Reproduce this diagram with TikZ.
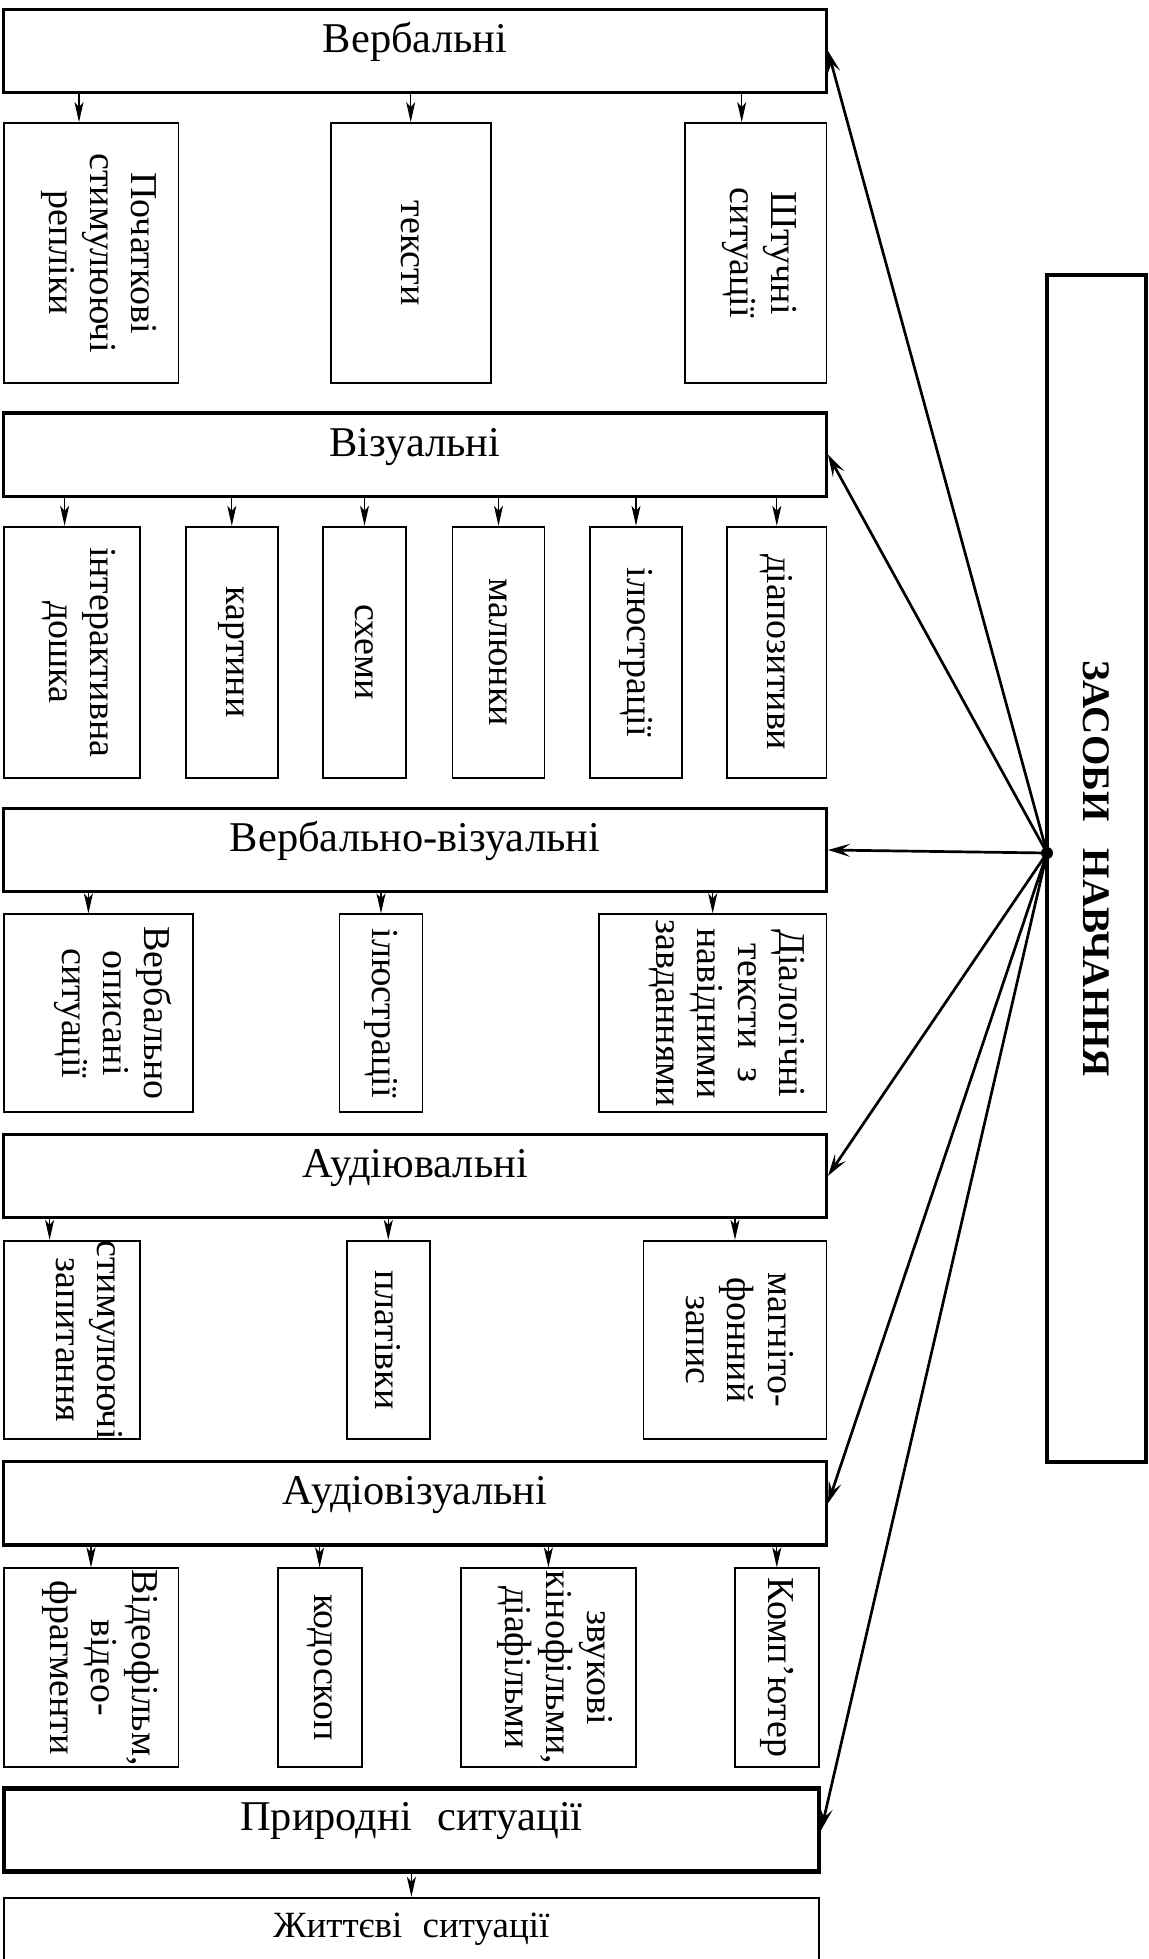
\documentclass[tikz,border=0pt]{standalone}
\usepackage{fontspec}
\setmainfont{Liberation Serif}
\usetikzlibrary{arrows.meta}

\begin{document}
\begin{tikzpicture}[x=0.5pt, y=-0.5pt,
  group node/.style={draw, line width=1.6pt, minimum width=411.4pt, inner xsep=0pt, inner ysep=0pt, text height=21.5pt, text depth=20.2pt, font=\fontsize{21.2}{24}\selectfont},
  item node/.style={draw, line width=0.9pt, inner sep=0pt},
  verbal item/.style={item node, minimum height=130pt},
  visual item/.style={item node, minimum height=125.5pt},
  low item/.style={item node, minimum height=99.2pt},
  item text/.style={rotate=-90, align=center, inner sep=0pt, font=\fontsize{19}{20.5}\selectfont},
  means node/.style={draw, line width=1.8pt, rotate=-90, minimum width=593.5pt, minimum height=49.5pt, font=\bfseries\fontsize{19.5}{22}\selectfont},
  hub node/.style={circle, fill, inner sep=0pt, minimum size=6pt},
  main arrow/.style={line width=1.35pt, -{Stealth[length=11pt, width=6.5pt, inset=4.5pt]}},
  item arrow/.style={line width=0.65pt, -{Stealth[length=10pt, width=4.5pt, inset=2.5pt]}}]

  \useasboundingbox (0,0) rectangle (1149,1959);
  \clip (0,0) rectangle (1149,1959);

  % groups
  \node[group node] (verb) at (415,51) {Вербальні};
  \node[group node] (vis) at (415,454.7) {Візуальні};
  \node[group node] (verbvis) at (415,850) {Вербально-візуальні};
  \node[group node] (audio) at (415,1175.8) {Аудіювальні};
  \node[group node] (audvis) at (415,1503.3) {Аудіовізуальні};
  \node[group node, line width=2.2pt, minimum width=407.6pt, text height=20.9pt, text depth=20.7pt] (nat) at (411.4,1830) {Природні\hspace{0.6em}ситуації};
  \node[group node, line width=1.2pt, minimum width=407.6pt, text height=19.5pt, text depth=40pt, font=\fontsize{18.5}{21}\selectfont] (life) at (411.4,1957.5) {Життєві\hspace{0.55em}ситуації};

  \node[means node] (means) at (1096.5,868.5) {ЗАСОБИ\hspace{0.7em}НАВЧАННЯ};
  \node[hub node] (hub) at (1047,853) {};

  % verbal
  \node[verbal item, minimum width=87.4pt] (v1) at (91,253) {};
  \node[verbal item, minimum width=80pt] (v2) at (410.7,253) {};
  \node[verbal item, minimum width=70.7pt] (v3) at (755.7,253) {};
  \node[item text] (v1txt) at ([xshift=4pt]v1.center) {Початкові\\стимулюючі\\репліки};
  \node[item text] (v2txt) at (v2) {тексти};
  \node[item text] (v3txt) at ([xshift=2pt]v3.center) {Штучні\\ситуації};

  % visual
  \node[visual item, minimum width=68pt] (s1) at (71.6,652.2) {};
  \node[visual item, minimum width=45.8pt] (s2) at (231.8,652.2) {};
  \node[visual item, minimum width=41.5pt] (s3) at (364.5,652.2) {};
  \node[visual item, minimum width=46pt] (s4) at (498.5,652.2) {};
  \node[visual item, minimum width=46pt] (s5) at (636,652.2) {};
  \node[visual item, minimum width=49.7pt] (s6) at (776.8,652.2) {};
  \node[item text] (s1txt) at ([xshift=3.5pt]s1.center) {інтерактивна\\дошка};
  \node[item text] (s2txt) at (s2) {картини};
  \node[item text] (s3txt) at (s3) {схеми};
  \node[item text] (s4txt) at (s4) {малюнки};
  \node[item text] (s5txt) at (s5) {ілюстрації};
  \node[item text] (s6txt) at (s6) {діапозитиви};

  % verbal-visual
  \node[low item, minimum height=99pt, minimum width=94.6pt] (w1) at (98.4,1013.3) {};
  \node[low item, minimum height=99pt, minimum width=41.5pt] (w2) at (381,1013.3) {};
  \node[low item, minimum height=99pt, minimum width=113.8pt] (w3) at (712.7,1013.3) {};
  \node[item text] (w1txt) at ([xshift=7.5pt]w1.center) {Вербально\\описані\\ситуації};
  \node[item text] (w2txt) at (w2) {ілюстрації};
  \node[item text] (w3txt) at ([xshift=7pt]w3.center) {Діалогічні\\тексти\ \ з\\навідними\\завданнями};

  % audio
  \node[low item, minimum width=68pt] (a1) at (71.6,1340) {};
  \node[low item, minimum width=41.5pt] (a2) at (388.3,1340) {};
  \node[low item, minimum width=91.5pt] (a3) at (735,1340) {};
  \node[item text] (a1txt) at ([xshift=9pt]a1.center) {стимулюючі\\запитання};
  \node[item text] (a2txt) at (a2) {платівки};
  \node[item text] (a3txt) at ([xshift=2.5pt]a3.center) {магніто-\\фонний\\запис};

  % audio-visual
  \node[low item, minimum width=87.4pt] (t1) at (91,1667.5) {};
  \node[low item, minimum width=42pt] (t2) at (319.6,1667.5) {};
  \node[low item, minimum width=87.8pt] (t3) at (548.4,1667.5) {};
  \node[low item, minimum width=42pt] (t4) at (776.8,1667.5) {};
  \node[item text] (t1txt) at ([xshift=5pt]t1.center) {Відеофільм,\\відео-\\фрагменти};
  \node[item text] (t2txt) at (t2) {кодоскоп};
  \node[item text] (t3txt) at ([xshift=3.5pt]t3.center) {звукові\\кінофільми,\\діафільми};
  \node[item text] (t4txt) at (t4) {Комп’ютер};

  % arrows into the items
  \coordinate (v1in) at ([xshift=-6pt]v1.north);
  \coordinate (v3in) at ([xshift=-7pt]v3.north);
  \coordinate (s1in) at ([xshift=-3.5pt]s1.north);
  \coordinate (w1in) at ([xshift=-5pt]w1.north);
  \coordinate (a1in) at ([xshift=-11pt]a1.north);
  \draw[item arrow] (v1in |- verb.south) -- (v1in);
  \draw[item arrow] (v2.north |- verb.south) -- (v2.north);
  \draw[item arrow] (v3in |- verb.south) -- (v3in);
  \draw[item arrow] (s1in |- vis.south) -- (s1in);
  \foreach \n in {s2,s3,s4,s5,s6}
    \draw[item arrow] (\n.north |- vis.south) -- (\n.north);
  \draw[item arrow] (w1in |- verbvis.south) -- (w1in);
  \draw[item arrow] (w2.north |- verbvis.south) -- (w2.north);
  \draw[item arrow] (w3.north |- verbvis.south) -- (w3.north);
  \draw[item arrow] (a1in |- audio.south) -- (a1in);
  \draw[item arrow] (a2.north |- audio.south) -- (a2.north);
  \draw[item arrow] (a3.north |- audio.south) -- (a3.north);
  \foreach \n in {t1,t2,t3,t4}
    \draw[item arrow] (\n.north |- audvis.south) -- (\n.north);
  \draw[item arrow] (nat.south) -- (life.north);

  % from the means
  \foreach \g in {verb,vis,verbvis,audio,audvis,nat}
    \draw[main arrow] (hub.center) -- (\g.east);
\end{tikzpicture}
\end{document}
